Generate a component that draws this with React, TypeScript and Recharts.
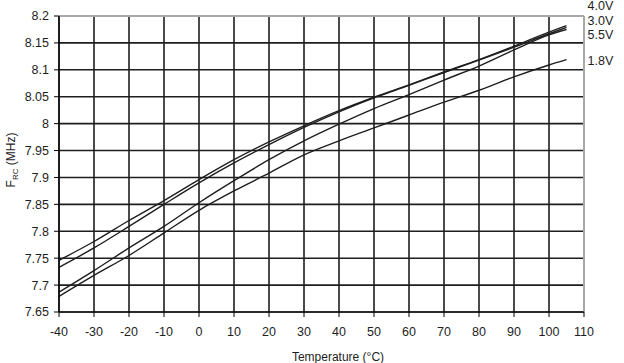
import React from 'react';
import { LineChart, Line, XAxis, YAxis, CartesianGrid, ReferenceLine, Label } from 'recharts';

// temperature points (°C) and frequency readings (MHz) per supply voltage
const temps = [-40, -30, -20, -10, 0, 10, 20, 30, 40, 50, 60, 70, 80, 90, 100, 105];
const v40 = [7.746, 7.781, 7.82, 7.857, 7.896, 7.933, 7.966, 7.996, 8.024, 8.049, 8.072, 8.096, 8.119, 8.144, 8.17, 8.182];
const v30 = [7.733, 7.769, 7.809, 7.85, 7.89, 7.927, 7.961, 7.993, 8.022, 8.048, 8.071, 8.095, 8.118, 8.142, 8.167, 8.179];
const v55 = [7.687, 7.727, 7.769, 7.809, 7.853, 7.894, 7.933, 7.968, 7.999, 8.028, 8.054, 8.081, 8.107, 8.137, 8.165, 8.175];
const v18 = [7.679, 7.718, 7.755, 7.797, 7.839, 7.875, 7.908, 7.942, 7.968, 7.992, 8.016, 8.04, 8.062, 8.087, 8.109, 8.119];

const xTicks = [-40, -30, -20, -10, 0, 10, 20, 30, 40, 50, 60, 70, 80, 90, 100, 110];
const yTicks = [7.65, 7.7, 7.75, 7.8, 7.85, 7.9, 7.95, 8, 8.05, 8.1, 8.15, 8.2];

const series = [
  { key: 'v40', name: '4.0V', values: v40 },
  { key: 'v30', name: '3.0V', values: v30 },
  { key: 'v55', name: '5.5V', values: v55 },
  { key: 'v18', name: '1.8V', values: v18 },
];

// vertical nudge of the end labels so they stack like the original
const labelDy: Record<string, number> = { v40: -20, v30: -7, v55: 5.5, v18: 1 };

const data = temps.map((t, i) => {
  const row: Record<string, number> = { t };
  series.forEach((s) => (row[s.key] = s.values[i]));
  return row;
});

const FONT = 'Liberation Sans, Arial, sans-serif';
const INK = '#1e1e1e';

const endLabel = (key: string, name: string) => (props: any) => {
  const { x, y, index } = props;
  if (index !== temps.length - 1) return null;
  return (
    <text x={x + 21} y={y + labelDy[key]} dy="0.36em" fontSize={12.5} fontFamily={FONT} fill={INK}>
      {name}
    </text>
  );
};

const yLabel = () => (
  <text
    x={11}
    y={160}
    transform="rotate(-90, 11, 160)"
    textAnchor="middle"
    dy="0.36em"
    fontSize={12}
    fontFamily={FONT}
    fill={INK}
  >
    F<tspan dy="3" fontSize={8}>RC</tspan>
    <tspan dy="-3"> (MHz)</tspan>
  </text>
);

const xLabel = () => (
  <text x={338} y={357} textAnchor="middle" dy="0.36em" fontSize={12} fontFamily={FONT} fill={INK}>
    Temperature (°C)
  </text>
);

export default function App() {
  return (
    <div style={{ position: 'absolute', left: 0, top: 0, background: '#fff' }}>
      <LineChart width={624} height={363} data={data} margin={{ top: 16, right: 40, left: 0, bottom: 0 }}>
        <CartesianGrid stroke={INK} strokeWidth={1.6} />
        <XAxis
          dataKey="t"
          type="number"
          domain={[-40, 110]}
          ticks={xTicks}
          interval={0}
          height={51}
          tickSize={5}
          tickMargin={10}
          axisLine={{ stroke: '#000', strokeWidth: 1.2 }}
          tickLine={{ stroke: '#000' }}
          tick={{ fontSize: 12.5, fontFamily: FONT, fill: INK }}
        >
          <Label content={xLabel} />
        </XAxis>
        <YAxis
          type="number"
          domain={[7.65, 8.2]}
          ticks={yTicks}
          interval={0}
          width={59}
          tickSize={5}
          tickMargin={5}
          axisLine={{ stroke: '#000', strokeWidth: 1.2 }}
          tickLine={{ stroke: '#000' }}
          tick={{ fontSize: 12.5, fontFamily: FONT, fill: INK }}
          tickFormatter={(v: number) => String(parseFloat(v.toFixed(2)))}
        >
          <Label content={yLabel} />
        </YAxis>
        <ReferenceLine y={8.2} stroke="#a8a8a8" strokeWidth={2} />
        <ReferenceLine x={110} stroke="#a8a8a8" strokeWidth={2} />
        {series.map((s) => (
          <Line
            key={s.key}
            dataKey={s.key}
            name={s.name}
            type="monotone"
            stroke={INK}
            strokeWidth={1.4}
            dot={false}
            isAnimationActive={false}
            label={endLabel(s.key, s.name)}
          />
        ))}
      </LineChart>
    </div>
  );
}
